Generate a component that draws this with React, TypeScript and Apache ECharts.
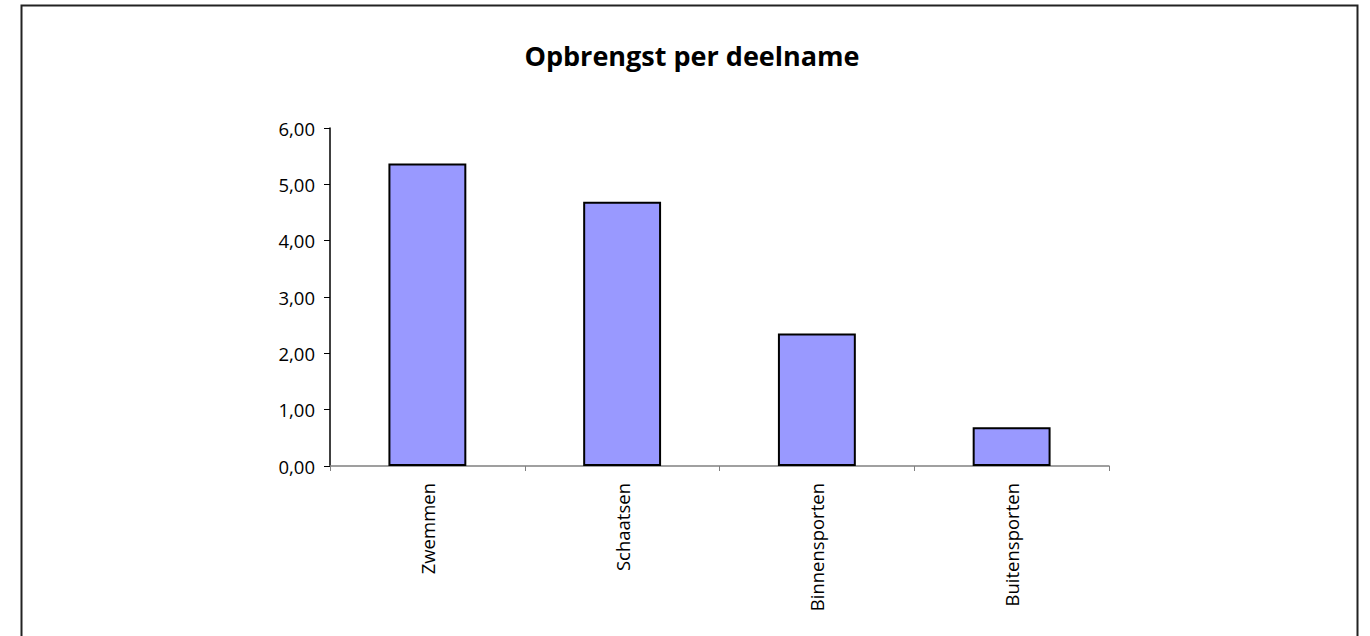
import React, { useEffect, useRef } from "react";
import * as echarts from "echarts";

const categories = ["Zwemmen", "Schaatsen", "Binnensporten", "Buitensporten"];
const values = [5.37, 4.69, 2.35, 0.69];
const yTicks = { min: 0, max: 6, interval: 1 };
const title = "Opbrengst per deelname";

export default function App() {
  const ref = useRef<HTMLDivElement>(null);
  useEffect(() => {
    const chart = echarts.init(ref.current!, null, { renderer: "svg" });
    const font = "'Open Sans', 'Noto Sans', sans-serif";
    chart.setOption({
      animation: false,
      title: {
        text: title,
        left: 687,
        top: 37,
        textAlign: "center",
        textStyle: { fontFamily: font, fontSize: 27, fontWeight: "bold", color: "#000" },
      },
      graphic: [
        {
          type: "rect",
          shape: { x: 21.5, y: 5.5, width: 1336, height: 700 },
          style: { fill: "none", stroke: "#222", lineWidth: 2 },
          silent: true,
        },
      ],
      grid: { left: 330, right: 261, top: 128, bottom: 170 },
      xAxis: {
        type: "category",
        data: categories,
        axisLine: { lineStyle: { color: "#808080", width: 1.5 } },
        axisTick: { show: true, length: 5, lineStyle: { color: "#808080" } },
        axisLabel: {
          rotate: 90,
          margin: 17,
          fontFamily: font,
          fontSize: 18.5,
          color: "#000",
        },
      },
      yAxis: {
        type: "value",
        min: yTicks.min,
        max: yTicks.max,
        interval: yTicks.interval,
        splitLine: { show: false },
        axisLine: { show: true, lineStyle: { color: "#000", width: 1.5 } },
        axisTick: { show: true, length: 6, lineStyle: { color: "#000" } },
        axisLabel: {
          margin: 15,
          fontFamily: font,
          fontSize: 18.5,
          color: "#000",
          formatter: (v: number) => v.toFixed(2).replace(".", ","),
        },
      },
      series: [
        {
          type: "bar",
          data: values,
          barWidth: "40%",
          itemStyle: { color: "#9999FF", borderColor: "#000", borderWidth: 2 },
        },
      ],
    });
    return () => chart.dispose();
  }, []);
  return (
    <div
      ref={ref}
      style={{ position: "absolute", left: 0, top: 0, width: 1370, height: 636, background: "#fff" }}
    />
  );
}
